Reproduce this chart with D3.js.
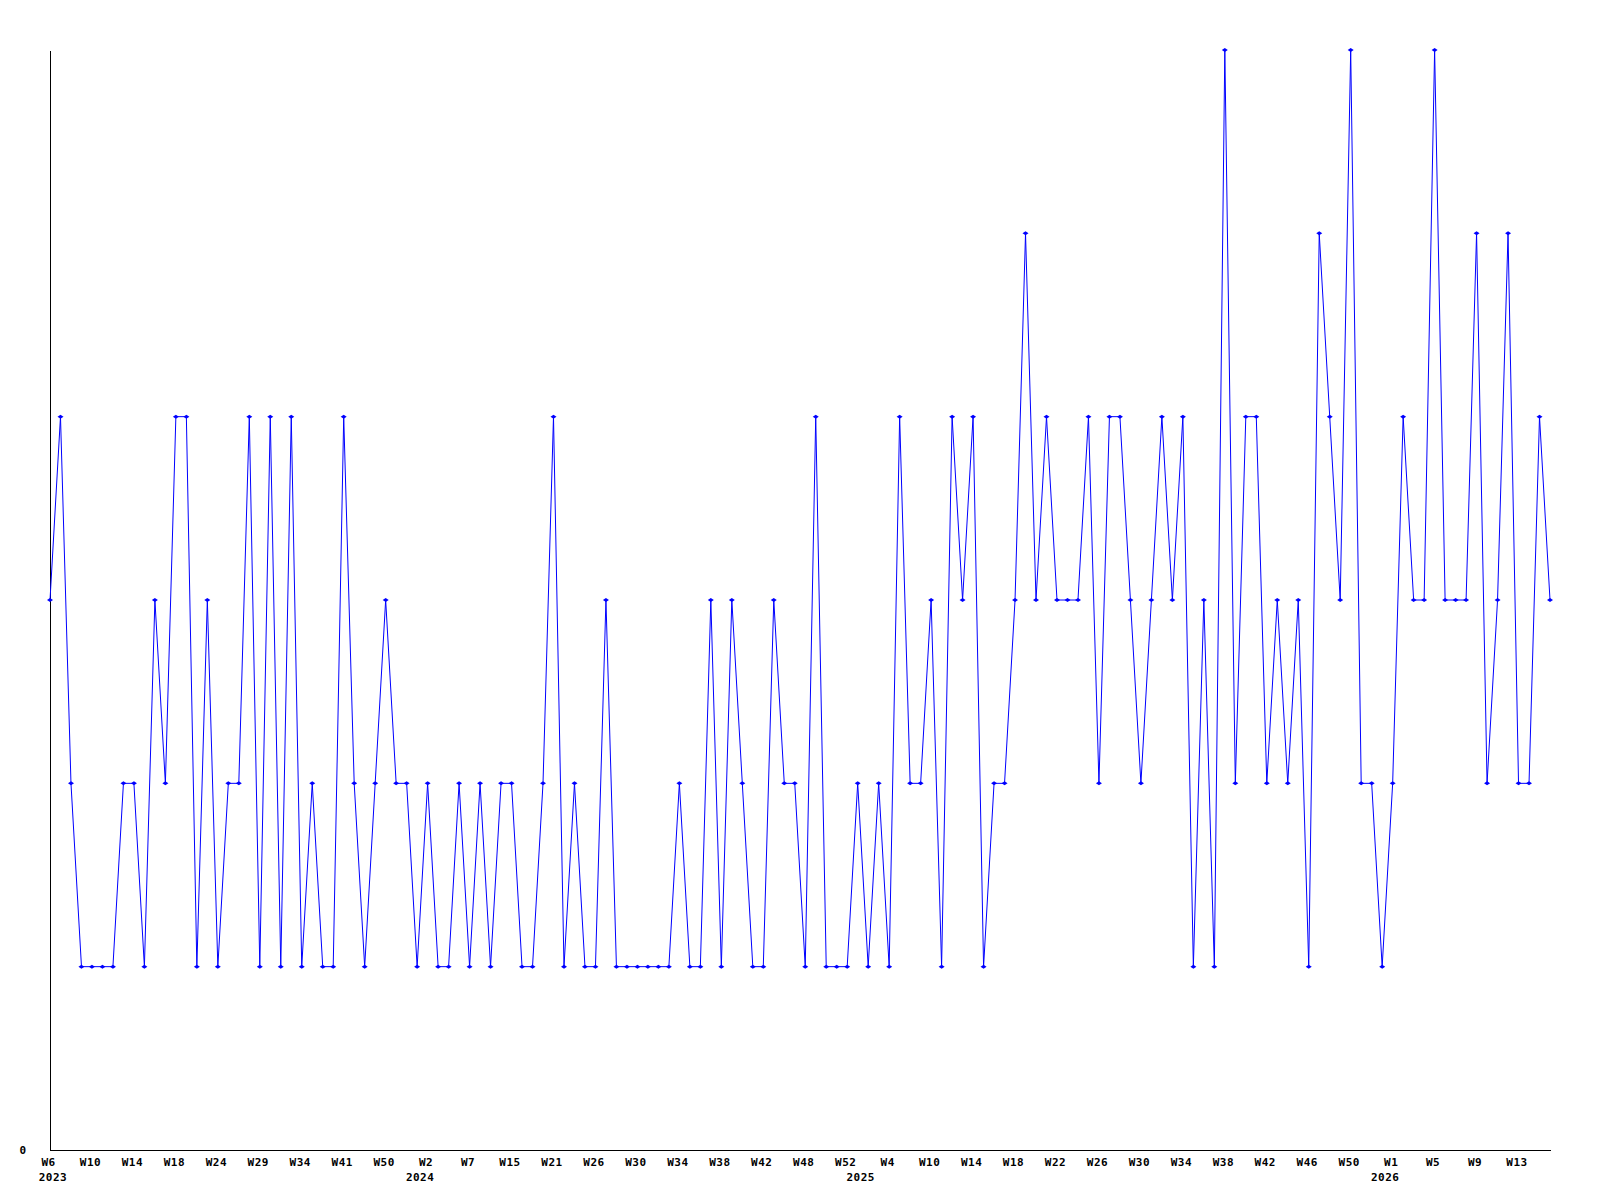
<!DOCTYPE html>
<html>
<head>
<meta charset="utf-8">
<script src="https://cdn.jsdelivr.net/npm/d3@7"></script>
<style>
  body { margin: 0; background: #fff; }
  text { font-family: "DejaVu Sans Mono", monospace; font-weight: bold; font-size: 11px; letter-spacing: 0.5px; fill: #000; }
</style>
</head>
<body>
<svg id="chart"></svg>
<script>
// weekly counts, one per point
var values = [
  3, 4, 2, 1, 1, 1, 1, 2, 2, 1, 3, 2, 4, 4, 1, 3, 1, 2, 2, 4,
  1, 4, 1, 4, 1, 2, 1, 1, 4, 2, 1, 2, 3, 2, 2, 1, 2, 1, 1, 2,
  1, 2, 1, 2, 2, 1, 1, 2, 4, 1, 2, 1, 1, 3, 1, 1, 1, 1, 1, 1,
  2, 1, 1, 3, 1, 3, 2, 1, 1, 3, 2, 2, 1, 4, 1, 1, 1, 2, 1, 2,
  1, 4, 2, 2, 3, 1, 4, 3, 4, 1, 2, 2, 3, 5, 3, 4, 3, 3, 3, 4,
  2, 4, 4, 3, 2, 3, 4, 3, 4, 1, 3, 1, 6, 2, 4, 4, 2, 3, 2, 3,
  1, 5, 4, 3, 6, 2, 2, 1, 2, 4, 3, 3, 6, 3, 3, 3, 5, 2, 3, 5,
  2, 2, 4, 3
];

// label shown on every 4th point
var weekLabels = [
  'W6', 'W10', 'W14', 'W18', 'W24', 'W29', 'W34', 'W41', 'W50',
  'W2', 'W7', 'W15', 'W21', 'W26', 'W30', 'W34', 'W38', 'W42', 'W48', 'W52',
  'W4', 'W10', 'W14', 'W18', 'W22', 'W26', 'W30', 'W34', 'W38', 'W42', 'W46', 'W50',
  'W1', 'W5', 'W9', 'W13'
];
var labelEvery = 4;

var years = ['2023', '2024', '2025', '2026'];
var yearStart = [0, 35, 77, 127];

var yMax = 6;

var width = 1600, height = 1200;
var margin = {top: 50, right: 50, bottom: 50, left: 50};

var svg = d3.select('#chart')
  .attr('width', width)
  .attr('height', height);

var x = d3.scaleLinear()
  .domain([0, values.length - 1])
  .range([margin.left, width - margin.right]);

var y = d3.scaleLinear()
  .domain([0, yMax])
  .range([height - margin.bottom, margin.top]);

// axes
var xAxis = d3.axisBottom(x)
  .tickValues(d3.range(0, values.length, labelEvery))
  .tickFormat(function (d) { return weekLabels[d / labelEvery]; })
  .tickSize(0)
  .tickPadding(8);

var gx = svg.append('g')
  .attr('transform', 'translate(0,' + y(0) + ')')
  .call(xAxis);
gx.select('.domain').attr('stroke', '#000').attr('shape-rendering', 'crispEdges');
gx.selectAll('text').attr('font-family', null).attr('font-size', null).attr('dx', -2);

var yAxis = d3.axisLeft(y)
  .tickValues([0])
  .tickFormat(d3.format('d'))
  .tickSize(0);

var gy = svg.append('g')
  .attr('transform', 'translate(' + x(0) + ',0)')
  .call(yAxis);
gy.select('.domain').attr('stroke', '#000').attr('shape-rendering', 'crispEdges');
gy.selectAll('text').attr('font-family', null).attr('font-size', null)
  .attr('text-anchor', 'middle').attr('x', -27).attr('dy', '0.3em');

// year labels below the week labels
svg.selectAll('.year')
  .data(years)
  .enter().append('text')
  .attr('class', 'year')
  .attr('x', function (d, i) { return x(yearStart[i]) + 3; })
  .attr('y', y(0) + 31)
  .attr('text-anchor', 'middle')
  .text(function (d) { return d; });

// series
var line = d3.line()
  .x(function (d, i) { return x(i); })
  .y(function (d) { return y(d); });

svg.append('path')
  .datum(values)
  .attr('fill', 'none')
  .attr('stroke', '#0000ff')
  .attr('stroke-width', 1)
  .attr('d', line);

svg.selectAll('.pt')
  .data(values)
  .enter().append('path')
  .attr('class', 'pt')
  .attr('transform', function (d, i) { return 'translate(' + x(i) + ',' + y(d) + ')'; })
  .attr('d', 'M-3,0L0,-2L3,0L0,2Z')
  .attr('fill', '#0000ff');
</script>
</body>
</html>
